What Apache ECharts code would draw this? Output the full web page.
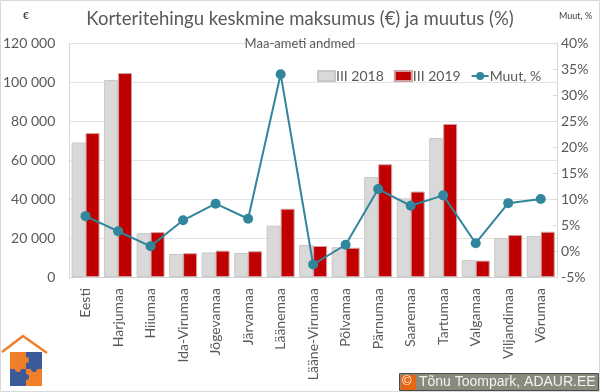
<!DOCTYPE html>
<html>
<head>
<meta charset="utf-8">
<script src="https://cdn.jsdelivr.net/npm/echarts@6/dist/echarts.min.js"></script>
<style>html,body{margin:0;padding:0;background:#fff}#c{width:600px;height:392px}</style>
</head>
<body>
<div id="c"></div>
<script>
const categories = ["Eesti","Harjumaa","Hiiumaa","Ida-Virumaa","Jõgevamaa","Järvamaa","Läänemaa","Lääne-Virumaa","Põlvamaa","Pärnumaa","Saaremaa","Tartumaa","Valgamaa","Viljandimaa","Võrumaa"];
const q2018 = [69000,101000,22500,11800,12600,12300,26300,16400,15300,51300,40300,71300,8700,20000,21000];
const q2019 = [73800,104600,23000,12200,13500,13200,35000,15900,15000,57800,43800,78500,8400,21600,23200];
const change = [6.7,3.8,0.9,5.9,9.1,6.2,34.0,-2.6,1.2,11.9,8.7,10.7,1.5,9.2,10.0];
const leftTicks = {min:0,max:120000,interval:20000};
const rightTicks = {min:-5,max:40,interval:5};

const chart = echarts.init(document.getElementById('c'), null, {renderer:'canvas'});
const FONT = 'Lato';
const TXT = '#595959';
chart.setOption({
  animation:false,
  backgroundColor:'#fff',
  textStyle:{fontFamily:FONT},
  title:[
    {text:'Korteritehingu keskmine maksumus (€) ja muutus (%)',left:'center',top:5,
     textStyle:{fontFamily:FONT,fontSize:18.5,fontWeight:'normal',color:TXT}},
    {text:'Maa-ameti andmed',left:'center',top:32,
     textStyle:{fontFamily:FONT,fontSize:13,fontWeight:'normal',color:TXT}}
  ],
  legend:{
    left:312,top:64,itemGap:10,itemWidth:17,itemHeight:10,
    textStyle:{fontFamily:FONT,fontSize:14,color:TXT,padding:[0,0,0,-4]},
    data:[{name:'III 2018',icon:'rect'},{name:'III 2019',icon:'rect'},{name:'Muut, %'}]
  },
  grid:{left:69,right:43,top:43,bottom:115,containLabel:false},
  xAxis:{
    type:'category',data:categories,
    axisLine:{lineStyle:{color:'#d0d0d0'}},
    axisTick:{show:false},
    axisLabel:{rotate:90,color:TXT,fontSize:14,fontFamily:FONT,margin:11,interval:0}
  },
  yAxis:[
    {type:'value',min:leftTicks.min,max:leftTicks.max,interval:leftTicks.interval,
     axisLine:{show:true,lineStyle:{color:'#d9d9d9'}},axisTick:{show:false},
     splitLine:{lineStyle:{color:'#e3e3e3'}},
     axisLabel:{color:TXT,fontSize:14,fontFamily:FONT,margin:14,
       formatter:v=>String(v).replace(/\B(?=(\d{3})+(?!\d))/g,' ')}},
    {type:'value',min:rightTicks.min,max:rightTicks.max,interval:rightTicks.interval,
     axisLine:{show:true,lineStyle:{color:'#d9d9d9'}},
     axisTick:{show:true,inside:true,length:4,lineStyle:{color:'#d9d9d9'}},
     splitLine:{show:false},
     axisLabel:{color:TXT,fontSize:14,fontFamily:FONT,margin:4,formatter:'{value}%'}}
  ],
  series:[
    {name:'III 2018',type:'bar',data:q2018,yAxisIndex:0,barGap:'0%',barCategoryGap:'14%',
     itemStyle:{color:'#d9d9d9',borderColor:'#c8c8c8',borderWidth:1}},
    {name:'III 2019',type:'bar',data:q2019,yAxisIndex:0,barGap:'0%',barCategoryGap:'14%',
     itemStyle:{color:'#c00000',borderColor:'#d0a0a0',borderWidth:1}},
    {name:'Muut, %',type:'line',data:change,yAxisIndex:1,z:5,
     symbol:'circle',symbolSize:10,
     lineStyle:{color:'#31859c',width:2},
     itemStyle:{color:'#31859c'}}
  ],
  graphic:[
    {type:'rect',shape:{x:0.5,y:0.5,width:599,height:391},style:{fill:'none',stroke:'#d9d9d9',lineWidth:1},silent:true},
    {type:'text',left:23,top:11,style:{text:'€',fontSize:10,fontWeight:'bold',fill:'#404040',fontFamily:FONT}},
    {type:'text',left:559,top:12,style:{text:'Muut, %',fontSize:9,fill:'#404040',fontFamily:FONT}},
    // logo
    {type:'polyline',shape:{points:[[2,352],[23,336],[47,353]]},style:{stroke:'#f07f2a',lineWidth:2.5,fill:'none'}},
    {type:'rect',shape:{x:10,y:352,width:16,height:17},style:{fill:'#f07f2a'}},
    {type:'rect',shape:{x:26,y:352,width:16,height:17},style:{fill:'#3d5a98'}},
    {type:'rect',shape:{x:10,y:369,width:16,height:17},style:{fill:'#3d5a98'}},
    {type:'rect',shape:{x:26,y:369,width:16,height:17},style:{fill:'#f07f2a'}},
    {type:'circle',shape:{cx:26,cy:360,r:3},style:{fill:'#f07f2a'}},
    {type:'circle',shape:{cx:26,cy:377,r:3},style:{fill:'#3d5a98'}},
    {type:'circle',shape:{cx:18,cy:369,r:3},style:{fill:'#f07f2a'}},
    {type:'circle',shape:{cx:34,cy:369,r:3},style:{fill:'#3d5a98'}},
    // watermark
    {type:'rect',shape:{x:399.5,y:373.5,width:199,height:17},style:{fill:'#8a8a7c',stroke:'#4a4a4a',lineWidth:1}},
    {type:'rect',shape:{x:401,y:375,width:15,height:15},style:{fill:'#e8650f'}},
    {type:'text',left:402,top:375,style:{text:'©',fontSize:13,fill:'#ffffff',fontFamily:'Liberation Sans'}},
    {type:'text',left:419,top:375,style:{text:'Tõnu Toompark, ADAUR.EE',fontSize:14,fill:'#f2f2f2',fontFamily:'Liberation Sans'}}
  ]
});
</script>
</body>
</html>
